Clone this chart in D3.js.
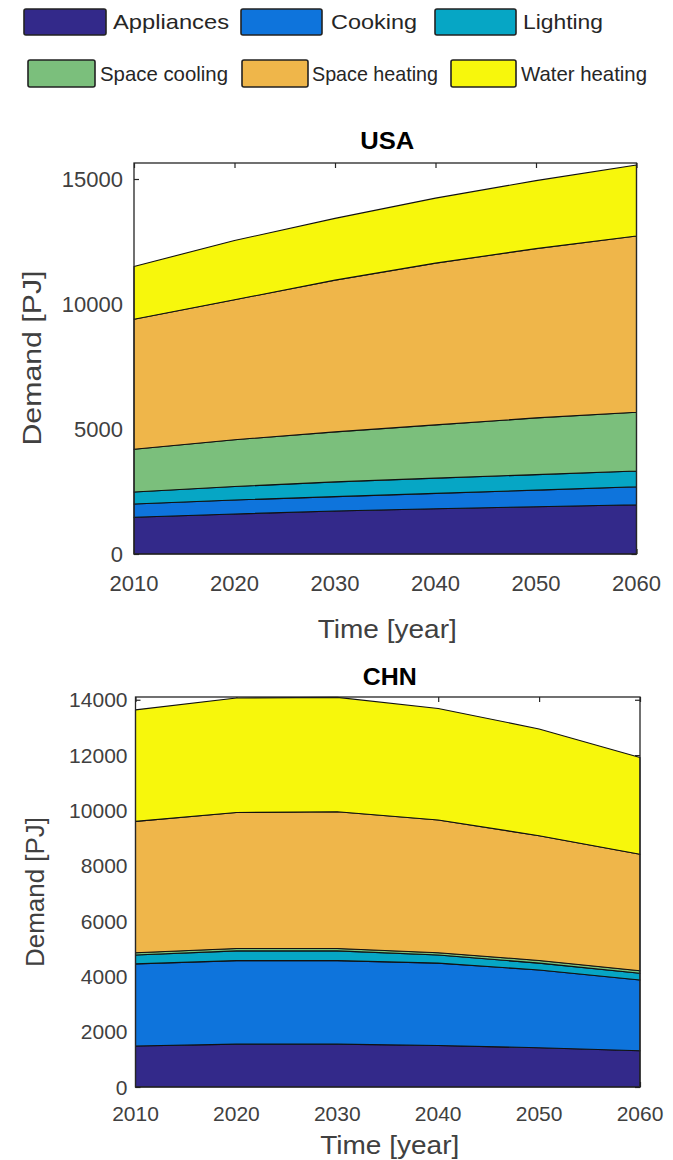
<!DOCTYPE html>
<html>
<head>
<meta charset="utf-8">
<script src="https://cdn.jsdelivr.net/npm/d3@7"></script>
<style>
  body { margin: 0; background: #fff; }
  svg { display: block; font-family: "Liberation Sans", Arial, sans-serif; }
</style>
</head>
<body>
<svg id="chart" width="673" height="1160"></svg>
<script>
// data (PJ)
const years = [2010, 2020, 2030, 2040, 2050, 2060];
const sectors = ['Appliances', 'Cooking', 'Lighting', 'Space cooling', 'Space heating', 'Water heating'];
const colors = ['#33298a', '#0e74dc', '#06a6c5', '#7bbf7c', '#efb64a', '#f7f70c'];

const usaAppliances = [1470, 1600, 1720, 1810, 1890, 1970];
const usaCooking = [530, 560, 575, 615, 665, 720];
const usaLighting = [480, 540, 590, 610, 620, 630];
const usaSpaceCooling = [1710, 1870, 2000, 2130, 2270, 2350];
const usaSpaceHeating = [5200, 5600, 6070, 6470, 6770, 7050];
const usaWaterHeating = [2110, 2370, 2470, 2600, 2720, 2840];

const chnAppliances = [1480, 1550, 1550, 1500, 1420, 1310];
const chnCooking = [2970, 3020, 3020, 2980, 2810, 2560];
const chnLighting = [320, 350, 350, 290, 250, 240];
const chnSpaceCooling = [85, 85, 85, 85, 95, 95];
const chnSpaceHeating = [4750, 4920, 4945, 4800, 4510, 4210];
const chnWaterHeating = [4030, 4140, 4135, 4030, 3860, 3500];

const usaTicks = [0, 5000, 10000, 15000];
const chnTicks = [0, 2000, 4000, 6000, 8000, 10000, 12000, 14000];

function table(series) {
  return years.map((yr, i) => {
    let row = { year: yr };
    sectors.forEach((s, j) => { row[s] = series[j][i]; });
    return row;
  });
}

const svg = d3.select('#chart');
const axisColor = '#262626';

// legend
let legendRows = [
  { y: 9, h: 26, items: [
    { i: 0, bx: 24, bw: 82, tx: 113, tw: 116 },
    { i: 1, bx: 241, bw: 81, tx: 331, tw: 86 },
    { i: 2, bx: 435, bw: 81, tx: 523, tw: 80 }] },
  { y: 60, h: 27, items: [
    { i: 3, bx: 28, bw: 67, tx: 100, tw: 128 },
    { i: 4, bx: 242, bw: 66, tx: 312, tw: 126 },
    { i: 5, bx: 451, bw: 65, tx: 521, tw: 126 }] }
];
legendRows.forEach(row => {
  row.items.forEach(it => {
    svg.append('rect')
      .attr('x', it.bx).attr('y', row.y)
      .attr('width', it.bw).attr('height', row.h)
      .attr('rx', 2)
      .attr('fill', colors[it.i])
      .attr('stroke', '#222').attr('stroke-width', 1.6);
    svg.append('text')
      .attr('x', it.tx).attr('y', row.y + row.h / 2 + 7)
      .attr('font-size', 21)
      .attr('fill', axisColor)
      .attr('textLength', it.tw).attr('lengthAdjust', 'spacingAndGlyphs')
      .text(sectors[it.i]);
  });
});

function panel(opts) {
  let data = table(opts.series);
  let x = d3.scaleLinear().domain([2010, 2060]).range([opts.left, opts.right]);
  let y = d3.scaleLinear().domain([0, opts.ymax]).range([opts.bottom, opts.top]);

  let g = svg.append('g');

  // ticks sit under the areas (matlab layer bottom)
  let axB = d3.axisBottom(x).tickValues(years).tickSize(-5).tickFormat('');
  let axT = d3.axisTop(x).tickValues(years).tickSize(-5).tickFormat('');
  let axL = d3.axisLeft(y).tickValues(opts.ticks).tickSize(-5).tickFormat('');
  let axR = d3.axisRight(y).tickValues(opts.ticks).tickSize(-5).tickFormat('');
  [[axB, `translate(0,${opts.bottom})`], [axT, `translate(0,${opts.top})`],
   [axL, `translate(${opts.left},0)`], [axR, `translate(${opts.right},0)`]].forEach(a => {
    let t = g.append('g').attr('transform', a[1]).call(a[0]);
    t.select('.domain').remove();
    t.selectAll('line').attr('stroke', axisColor).attr('stroke-width', 1.2);
  });

  let stack = d3.stack().keys(sectors)(data);
  let area = d3.area()
    .x(d => x(d.data.year))
    .y0(d => y(d[0]))
    .y1(d => y(d[1]));

  g.append('g').selectAll('path')
    .data(stack)
    .enter().append('path')
    .attr('d', area)
    .attr('fill', (d, i) => colors[i])
    .attr('stroke', '#111')
    .attr('stroke-width', 1.1)
    .attr('stroke-linejoin', 'round');

  g.append('rect')
    .attr('x', opts.left).attr('y', opts.top)
    .attr('width', opts.right - opts.left).attr('height', opts.bottom - opts.top)
    .attr('fill', 'none').attr('stroke', axisColor).attr('stroke-width', 1.3);

  // tick labels
  g.append('g').selectAll('text')
    .data(opts.ticks)
    .enter().append('text')
    .attr('x', opts.left - opts.ylabGap)
    .attr('y', d => y(d) + 7.5)
    .attr('text-anchor', 'end')
    .attr('font-size', opts.tickFont)
    .attr('fill', '#404040')
    .text(d => d);

  g.append('g').selectAll('text')
    .data(years)
    .enter().append('text')
    .attr('x', d => x(d))
    .attr('y', opts.xtickBase)
    .attr('text-anchor', 'middle')
    .attr('font-size', opts.tickFont)
    .attr('fill', '#404040')
    .text(d => d);

  g.append('text')
    .attr('x', (opts.left + opts.right) / 2 + 2)
    .attr('y', opts.titleBase)
    .attr('text-anchor', 'middle')
    .attr('font-size', 23)
    .attr('font-weight', 'bold')
    .attr('fill', '#000')
    .attr('textLength', 54).attr('lengthAdjust', 'spacingAndGlyphs')
    .text(opts.title);

  g.append('text')
    .attr('x', (opts.left + opts.right) / 2 + 2)
    .attr('y', opts.xlabBase)
    .attr('text-anchor', 'middle')
    .attr('font-size', 26)
    .attr('fill', '#404040')
    .attr('textLength', 139).attr('lengthAdjust', 'spacingAndGlyphs')
    .text('Time [year]');

  g.append('text')
    .attr('transform', `translate(${opts.ylabX},${opts.ylabY}) rotate(-90)`)
    .attr('text-anchor', 'middle')
    .attr('font-size', 26)
    .attr('fill', '#404040')
    .attr('textLength', opts.ylabLen).attr('lengthAdjust', 'spacingAndGlyphs')
    .text('Demand [PJ]');
}

panel({
  title: 'USA',
  series: [usaAppliances, usaCooking, usaLighting, usaSpaceCooling, usaSpaceHeating, usaWaterHeating],
  ticks: usaTicks, ymax: 15640,
  left: 134, right: 636.5, top: 163, bottom: 554,
  tickFont: 22, ylabGap: 11, xtickBase: 591,
  titleBase: 149, xlabBase: 638,
  ylabX: 41, ylabY: 358, ylabLen: 175
});

panel({
  title: 'CHN',
  series: [chnAppliances, chnCooking, chnLighting, chnSpaceCooling, chnSpaceHeating, chnWaterHeating],
  ticks: chnTicks, ymax: 14100,
  left: 135.5, right: 640, top: 697, bottom: 1087,
  tickFont: 21, ylabGap: 8, xtickBase: 1121,
  titleBase: 685, xlabBase: 1154,
  ylabX: 44, ylabY: 892, ylabLen: 150
});
</script>
</body>
</html>
